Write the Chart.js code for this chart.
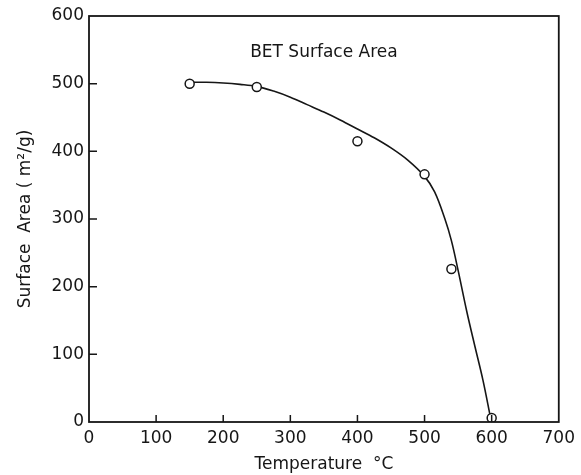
<!DOCTYPE html>
<html>
<head>
<meta charset="utf-8">
<script src="https://cdn.jsdelivr.net/npm/chart.js@4/dist/chart.umd.min.js"></script>
<style>
  html, body { margin: 0; padding: 0; background: #fff; }
  #wrap { width: 581px; height: 475px; }
</style>
</head>
<body>
<div id="wrap"><canvas id="grafico"></canvas></div>
<script>
// medidas
const temperaturas = [150, 250, 400, 500, 540, 600];
const areas = [500, 495, 415, 366, 226, 6];

// curva ajustada
const curvaT = [150, 175, 200, 225, 250, 275, 300, 325, 350, 375, 400, 425, 450, 475, 500, 515, 530, 540, 550, 563, 575, 587, 598];
const curvaA = [502, 502, 501, 499, 496, 489, 480, 469, 458, 446, 433, 420, 405, 387, 363, 340, 301, 268, 224, 163, 112, 62, 8];

const xTicks = [0, 100, 200, 300, 400, 500, 600, 700];
const yTicks = [0, 100, 200, 300, 400, 500, 600];

const TINTA = '#161616';
const FONTE = '"DejaVu Sans", sans-serif';

const pontos = temperaturas.map((t, i) => ({ x: t, y: areas[i] }));
const curva = curvaT.map((t, i) => ({ x: t, y: curvaA[i] }));

// moldura, marcas internas e textos
const molduraPlugin = {
  id: 'moldura',
  afterDraw(chart) {
    const ctx = chart.ctx;
    const area = chart.chartArea;
    const sx = chart.scales.x;
    const sy = chart.scales.y;
    ctx.save();
    ctx.strokeStyle = TINTA;
    ctx.lineWidth = 1.8;
    ctx.strokeRect(area.left, area.top, area.right - area.left, area.bottom - area.top);

    ctx.lineWidth = 1.5;
    ctx.beginPath();
    xTicks.slice(1, -1).forEach(v => {
      const px = sx.getPixelForValue(v);
      ctx.moveTo(px, area.bottom);
      ctx.lineTo(px, area.bottom - 7);
    });
    yTicks.slice(1, -1).forEach(v => {
      const py = sy.getPixelForValue(v);
      ctx.moveTo(area.left, py);
      ctx.lineTo(area.left + 8, py);
    });
    ctx.stroke();

    ctx.fillStyle = TINTA;
    ctx.textAlign = 'center';
    ctx.textBaseline = 'middle';
    ctx.font = '17px ' + FONTE;
    ctx.fillText('BET Surface Area', sx.getPixelForValue(350), sy.getPixelForValue(546));

    const cx = (area.left + area.right) / 2;
    ctx.fillText('Temperature  \u00b0C', cx, area.bottom + 43);

    ctx.translate(26, (area.top + area.bottom) / 2);
    ctx.rotate(-Math.PI / 2);
    ctx.fillText('Surface  Area ( m\u00b2/g)', 0, 0);
    ctx.restore();
  }
};

function montaGrafico() {
  const el = document.getElementById('grafico');
  new Chart(el, {
    type: 'line',
    data: {
      datasets: [
        {
          data: pontos,
          showLine: false,
          pointStyle: 'circle',
          pointRadius: 4.5,
          pointBackgroundColor: '#fff',
          pointBorderColor: TINTA,
          pointBorderWidth: 1.5
        },
        {
          data: curva,
          borderColor: TINTA,
          borderWidth: 1.6,
          pointRadius: 0,
          tension: 0.35,
          fill: false
        }
      ]
    },
    options: {
      responsive: true,
      maintainAspectRatio: false,
      animation: false,
      layout: { padding: { top: 16, right: 22, left: 0, bottom: 0 } },
      plugins: { legend: { display: false }, tooltip: { enabled: false } },
      scales: {
        x: {
          type: 'linear',
          min: 0,
          max: 700,
          afterFit: s => { s.height = 53; },
          afterBuildTicks: s => { s.ticks = xTicks.map(v => ({ value: v })); },
          grid: { display: false, tickLength: 0 },
          border: { display: false },
          ticks: { color: TINTA, padding: 6, font: { family: FONTE, size: 17 }, maxRotation: 0 }
        },
        y: {
          type: 'linear',
          min: 0,
          max: 600,
          afterFit: s => { s.width = 89; },
          afterBuildTicks: s => { s.ticks = yTicks.map(v => ({ value: v })); },
          grid: { display: false, tickLength: 0 },
          border: { display: false },
          ticks: { color: TINTA, padding: 5, font: { family: FONTE, size: 17 } }
        }
      }
    },
    plugins: [molduraPlugin]
  });
}

montaGrafico();
</script>
</body>
</html>
